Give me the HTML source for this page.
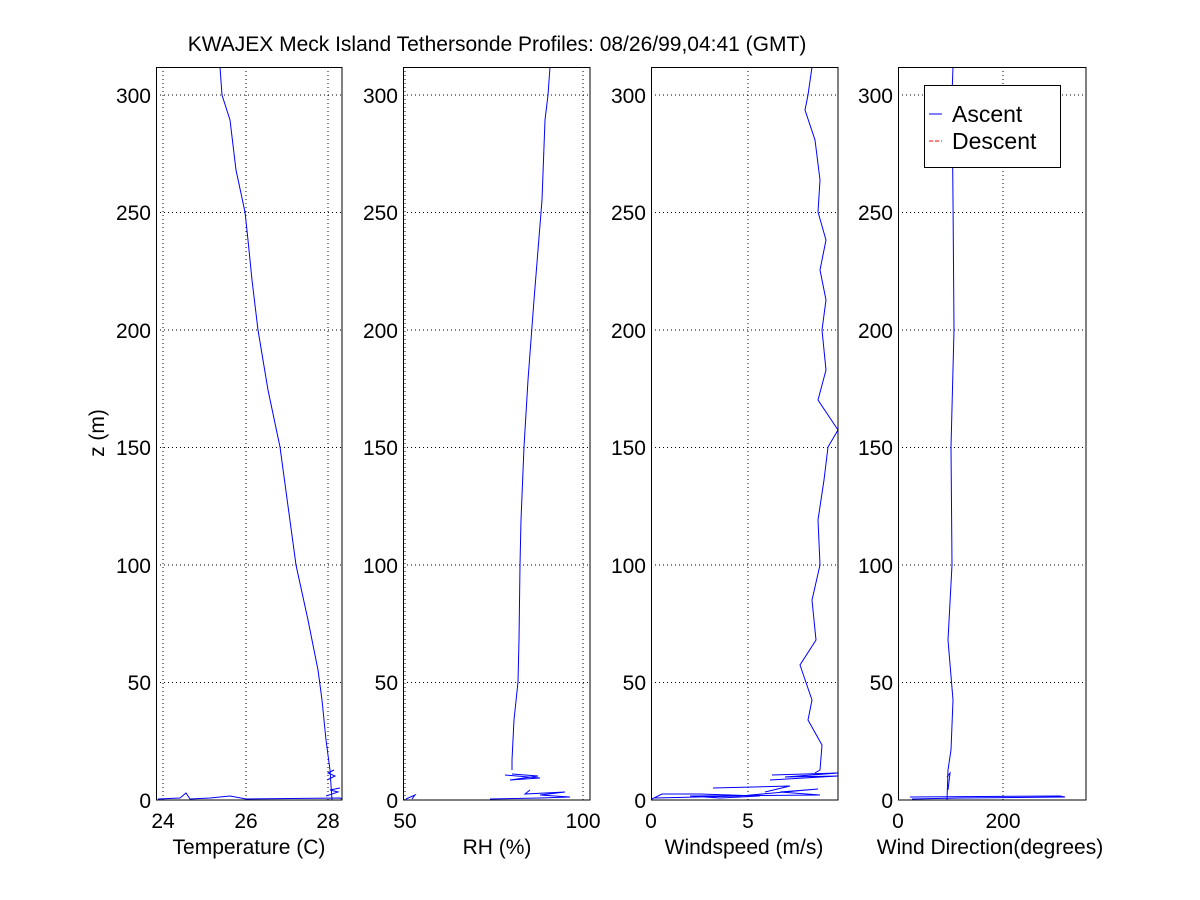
<!DOCTYPE html>
<html><head><style>
body{margin:0;background:#fff;}
svg{display:block;font-family:"Liberation Sans",Arial,sans-serif;}
</style></head><body>
<svg width="1200" height="900" viewBox="0 0 1200 900" xmlns="http://www.w3.org/2000/svg">
<rect width="1200" height="900" fill="#fff"/>
<text x="497" y="51" font-size="21" text-anchor="middle">KWAJEX Meck Island Tethersonde Profiles: 08/26/99,04:41 (GMT)</text>
<g stroke="#000" stroke-width="1" stroke-dasharray="1,3" fill="none">
<path d="M156 95H342M156 212.5H342M156 330H342M156 447.5H342M156 565H342M156 682.5H342"/>
<path d="M403 95H590M403 212.5H590M403 330H590M403 447.5H590M403 565H590M403 682.5H590"/>
<path d="M651 95H838M651 212.5H838M651 330H838M651 447.5H838M651 565H838M651 682.5H838"/>
<path d="M898 95H1086M898 212.5H1086M898 330H1086M898 447.5H1086M898 565H1086M898 682.5H1086"/>
<path d="M163 67V800M246 67V800M328 67V800"/>
<path d="M405 67V800M583 67V800"/>
<path d="M748 67V800"/>
<path d="M1003 67V800"/>
</g>
<g stroke="#00f" stroke-width="1" fill="none">
<polyline points="220,67 222,95 230,120 236,170 245,212 248,240 252,280 258,330 268,390 280,447 296,565 308,620 318,670 322,700 326,740 330,770 332,800"/>
<path d="M158 799L180 798L186 793L190 799L210 798L230 796L246 799L340 798L342 799"/>
<path d="M327 780L335 776L328 773L334 770M326 796L338 792L330 790L340 788"/>
<polyline points="550,67 548,95 545,120 542,200 538,250 534,300 528,380 524,447 521,520 520,565 519,640 518,682 514,720 512,760 512,770"/>
<path d="M505 775L540 778L510 780L538 776L512 774M490 799L540 798L570 797L540 795L565 792L525 794L530 790M406 799L415 795L412 799"/>
<polyline points="812,67 808,95 805,110 815,140 820,180 818,212 826,240 820,270 826,300 822,330 826,370 818,400 838,430 828,447 824,480 818,520 820,565 812,600 816,640 800,665 812,700 808,720 822,745 820,770 815,773"/>
<path d="M772 775L838 773L785 777L838 776L770 780M713 788L790 786L765 792M652 799L662 794L700 794L760 796L720 798L690 796L820 795L780 792L818 789L740 796L655 798"/>
<polyline points="953,67 952,95 953,200 954,330 951,447 952,565 948,640 953,700 951,750 948,770 947,800"/>
<path d="M910 797L1060 796L1065 797L960 798L912 799M947 777L950 773L948 790"/>
</g>
<g stroke="#000" stroke-width="1" fill="none">
<rect x="156.5" y="67.5" width="185.5" height="732.5"/>
<rect x="403.5" y="67.5" width="186.5" height="732.5"/>
<rect x="651.5" y="67.5" width="186.5" height="732.5"/>
<rect x="898.5" y="67.5" width="187.5" height="732.5"/>
</g>
<rect x="924.5" y="85.5" width="136" height="82" fill="#fff" stroke="#000"/>
<line x1="929" y1="114" x2="942" y2="114" stroke="#00f"/>
<line x1="929" y1="141" x2="942" y2="141" stroke="#f00" stroke-dasharray="4,2"/>
<text x="952" y="122" font-size="23">Ascent</text>
<text x="952" y="149" font-size="23">Descent</text>
<g font-size="21" text-anchor="end">
<text x="151" y="103">300</text><text x="151" y="220">250</text><text x="151" y="338">200</text><text x="151" y="455">150</text><text x="151" y="573">100</text><text x="151" y="690">50</text><text x="151" y="808">0</text>
<text x="398" y="103">300</text><text x="398" y="220">250</text><text x="398" y="338">200</text><text x="398" y="455">150</text><text x="398" y="573">100</text><text x="398" y="690">50</text><text x="398" y="808">0</text>
<text x="646" y="103">300</text><text x="646" y="220">250</text><text x="646" y="338">200</text><text x="646" y="455">150</text><text x="646" y="573">100</text><text x="646" y="690">50</text><text x="646" y="808">0</text>
<text x="893" y="103">300</text><text x="893" y="220">250</text><text x="893" y="338">200</text><text x="893" y="455">150</text><text x="893" y="573">100</text><text x="893" y="690">50</text><text x="893" y="808">0</text>
</g>
<g font-size="21" text-anchor="middle">
<text x="163" y="828">24</text><text x="246" y="828">26</text><text x="328" y="828">28</text>
<text x="405" y="828">50</text><text x="583" y="828">100</text>
<text x="651" y="828">0</text><text x="748" y="828">5</text>
<text x="898" y="828">0</text><text x="1003" y="828">200</text>
<text x="249" y="854">Temperature (C)</text>
<text x="497" y="854">RH (%)</text>
<text x="744" y="854">Windspeed (m/s)</text>
<text x="990" y="854">Wind Direction(degrees)</text>
</g>
<text transform="translate(104,433) rotate(-90)" font-size="21" text-anchor="middle">z (m)</text>
</svg>
</body></html>
